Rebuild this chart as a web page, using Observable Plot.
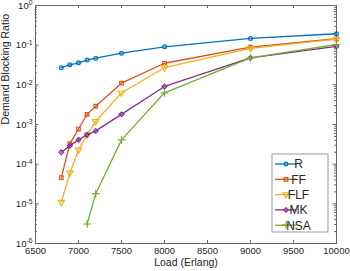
<!DOCTYPE html>
<html><head><meta charset="utf-8">
<script src="https://cdn.jsdelivr.net/npm/d3@7"></script>
<script src="https://cdn.jsdelivr.net/npm/@observablehq/plot@0.6"></script>
<style>
body{margin:0;background:#fff}
#chart svg{font-family:"Liberation Sans",Arial,Helvetica,sans-serif}
</style>
</head><body><div id="chart"></div>
<script>
// ---- data ----
const loads = [6800, 6900, 7000, 7100, 7200, 7500, 8000, 9000, 10000];
const loadsNSA = [7100, 7200, 7500, 8000, 9000, 10000];
const R   = [0.027, 0.032, 0.036, 0.042, 0.047, 0.063, 0.091, 0.148, 0.194];
const FF  = [4.6e-5, 3.3e-4, 7.7e-4, 1.8e-3, 2.9e-3, 0.011, 0.035, 0.089, 0.145];
const FLF = [1.1e-5, 6.0e-5, 2.3e-4, 5.5e-4, 1.2e-3, 6.3e-3, 0.027, 0.083, 0.142];
const MK  = [2.0e-4, 2.9e-4, 4.1e-4, 5.5e-4, 6.9e-4, 1.8e-3, 9.1e-3, 0.048, 0.093];
const NSA = [3.1e-6, 1.8e-5, 4.1e-4, 6.3e-3, 0.048, 0.104];
const seriesNames = ["R", "FF", "FLF", "MK", "NSA"];
const colors = ["#0072BD", "#D95319", "#EDB120", "#7E2F8E", "#77AC30"];
const xTicks = [6500, 7000, 7500, 8000, 8500, 9000, 9500, 10000];
const yMajor = [1e-6, 1e-5, 1e-4, 1e-3, 1e-2, 1e-1, 1];
const xLabel = "Load (Erlang)";
const yLabel = "Demand Blocking Ratio";

// ---- styles ----
const symbols = {R: "circle", FF: "square", FLF: "triangle", MK: "diamond2", NSA: "plus"};
const symbolFns = {R: d3.symbolCircle, FF: d3.symbolSquare, FLF: d3.symbolTriangle, MK: d3.symbolDiamond2, NSA: d3.symbolPlus};
const radii = {R: 1.9, FF: 2.0, FLF: 2.3, MK: 2.1, NSA: 2.6};

const valuesBy = {R, FF, FLF, MK, NSA};
const data = [];
for (const s of seriesNames) {
  const xs = s === "NSA" ? loadsNSA : loads;
  valuesBy[s].forEach((v, i) => data.push({series: s, load: xs[i], value: v}));
}
const yMinor = [];
for (let e = -6; e < 0; e++) for (let k = 2; k <= 9; k++) yMinor.push(k * Math.pow(10, e));

const W = 350, H = 271, mL = 35, mR = 14, mT = 5, mB = 28;
const fw = W - mL - mR, fh = H - mT - mB;
const axisColor = "#666";

const marks = [
  // inward ticks
  Plot.tickX(xTicks, {x: d => d, insetTop: fh - 3, stroke: axisColor}),
  Plot.tickX(xTicks, {x: d => d, insetBottom: fh - 3, stroke: axisColor}),
  Plot.tickY(yMajor, {y: d => d, insetRight: fw - 3.5, stroke: axisColor}),
  Plot.tickY(yMajor, {y: d => d, insetLeft: fw - 3.5, stroke: axisColor}),
  Plot.tickY(yMinor, {y: d => d, insetRight: fw - 2, stroke: axisColor}),
  Plot.tickY(yMinor, {y: d => d, insetLeft: fw - 2, stroke: axisColor}),
  Plot.frame({stroke: axisColor}),
  Plot.axisX({ticks: xTicks, tickSize: 0, tickPadding: 4, label: null, fontSize: 9.5, tickFormat: d => String(d)}),
  Plot.axisY({ticks: yMajor, tickSize: 0, tickPadding: 3, label: null, fontSize: 9.5,
    tickFormat: d => "10^" + Math.round(Math.log10(d))}),
  Plot.text([xLabel], {text: d => d, frameAnchor: "bottom", dy: 22.5, fontSize: 10.5, fill: "#262626"}),
  Plot.text([yLabel], {text: d => d, frameAnchor: "left", rotate: -90, dx: -30, fontSize: 10.6, fill: "#262626"})
];
seriesNames.forEach((s, i) => {
  const d = data.filter(o => o.series === s);
  marks.push(Plot.line(d, {x: "load", y: "value", stroke: colors[i], strokeWidth: 1.3}));
  marks.push(Plot.dot(d, {x: "load", y: "value", symbol: () => symbols[s], r: radii[s],
    stroke: colors[i], strokeWidth: 1.2, fill: "none", rotate: s === "FLF" ? 180 : 0}));
});

const chart = Plot.plot({
  width: W, height: H,
  marginLeft: mL, marginRight: mR, marginTop: mT, marginBottom: mB,
  style: {background: "white", color: "#262626", fontSize: "9.5px", fontFamily: "'Liberation Sans', Arial, sans-serif"},
  x: {domain: [6500, 10000], axis: null},
  y: {type: "log", domain: [1e-6, 1], axis: null},
  symbol: {type: "identity"},
  marks
});
document.getElementById("chart").appendChild(chart);

// superscript exponents on y tick labels
const svg = d3.select(chart.tagName.toLowerCase() === "svg" ? chart : chart.querySelector("svg"));
svg.selectAll('g[aria-label="y-axis tick label"] text').each(function () {
  const t = this.textContent;
  const [base, exp] = t.split("^");
  const sel = d3.select(this);
  sel.text(base);
  sel.append("tspan").attr("dy", "-0.45em").attr("font-size", "0.72em").text(exp);
});

// legend inside the axes
const lg = svg.append("g").attr("transform", "translate(272,154)");
lg.append("rect").attr("x", 0).attr("y", 0).attr("width", 56).attr("height", 78)
  .attr("fill", "white").attr("stroke", "#999").attr("stroke-width", 1);
seriesNames.forEach((s, i) => {
  const cy = 10 + i * 15.3;
  const g = lg.append("g");
  g.append("line").attr("x1", 3).attr("x2", 24.5).attr("y1", cy).attr("y2", cy)
    .attr("stroke", colors[i]).attr("stroke-width", 1.3);
  g.append("path").attr("d", d3.symbol(symbolFns[s], Math.PI * radii[s] * radii[s])())
    .attr("transform", `translate(14,${cy})` + (s === "FLF" ? " rotate(180)" : ""))
    .attr("fill", "none").attr("stroke", colors[i]).attr("stroke-width", 1.2);
  g.append("text").attr("x", 26.5).attr("y", cy).attr("dy", "0.36em")
    .attr("font-size", 12).attr("fill", "#262626").text(s);
});
</script>
</body></html>
